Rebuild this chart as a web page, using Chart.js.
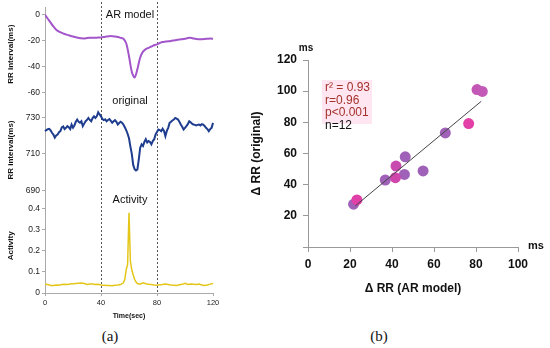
<!DOCTYPE html>
<html>
<head>
<meta charset="utf-8">
<script src="https://cdn.jsdelivr.net/npm/chart.js@4.4.1/dist/chart.umd.min.js"></script>
<style>
  body { margin: 0; background: #fff; width: 550px; height: 348px; position: relative; overflow: hidden; font-family: "Liberation Sans", Arial, sans-serif; }
  #leftChart { position: absolute; left: 0; top: 0; }
  #rightChart { position: absolute; left: 245px; top: 30px; }
  .panelLabel { position: absolute; top: 328px; transform: translateX(-50%); font-family: "Liberation Serif", serif; font-size: 15px; color: #111; }
</style>
</head>
<body>
<canvas id="leftChart" width="240" height="320"></canvas>
<canvas id="rightChart" width="305" height="270"></canvas>
<div class="panelLabel" style="left:110px">(a)</div>
<div class="panelLabel" style="left:379px">(b)</div>
<script>
// ---- (a) time series ----
const timeSec = [0, 2, 4, 6, 8, 10, 12, 14, 16, 18, 20, 22, 24, 26, 28, 30, 32, 34, 36, 38,
  40, 42, 44, 46, 48, 50, 52, 54, 56, 58, 60, 62, 64, 66, 68, 70, 72, 74, 76, 78,
  80, 82, 84, 86, 88, 90, 92, 94, 96, 98, 100, 102, 104, 106, 108, 110, 112, 114, 116, 118, 120];

const arModel = [0, -3, -6, -9, -11.5, -13, -14, -14.8, -15.5, -16.2, -16.8, -17.3, -17.8, -18.2, -18.3, -18, -17.8, -17.8, -17.7, -17.6,
  -17.5, -17.2, -16.8, -16.5, -16.5, -16.8, -17.2, -17.8, -18.5, -22, -32, -44, -48.5, -42, -33, -28.5, -26.5, -25.5, -24.5, -23.5,
  -22.8, -21.8, -21, -20.7, -20.5, -20.2, -19.8, -19.4, -19, -18.8, -18.5, -18, -17.8, -18.3, -18.7, -18.8, -18.8, -18.7, -18.5, -18.3, -18.5];

const origTime = [0, 1, 2, 3, 4, 5, 6, 7, 8, 9, 10, 11, 12, 13, 14, 15, 16, 17, 18, 19,
  20, 21, 22, 23, 24, 25, 26, 27, 28, 29, 30, 31, 32, 33, 34, 35, 36, 37, 38, 39,
  40, 41, 42, 43, 44, 45, 46, 47, 48, 49, 50, 51, 52, 53, 54, 55, 56, 57, 58, 59,
  60, 61, 62, 63, 64, 65, 66, 67, 68, 69, 70, 71, 72, 73, 74, 75, 76, 77, 78, 79,
  80, 81, 82, 83, 84, 85, 86, 87, 88, 89, 90, 91, 92, 93, 94, 95, 96, 97, 98, 99,
  100, 101, 102, 103, 104, 105, 106, 107, 108, 109, 110, 111, 112, 113, 114, 115, 116, 117, 118, 119, 120, 121];

const original = [722.4, 723, 723.5, 723.7, 722.8, 721.5, 720.5, 718.8, 720, 720.6,
  721.8, 722.4, 724.5, 725, 723.5, 724.2, 725.1, 724.5, 723.5, 726,
  724.3, 725.5, 727.5, 728.7, 727.5, 727, 727.8, 725.1, 726.5, 727.8,
  728.5, 729.6, 728.5, 727.8, 729.5, 730.5, 729.6, 730.5, 732.7, 731.5,
  730.5, 729, 728.4, 728.8, 727.8, 728.5, 729, 728, 727, 727.8,
  728.4, 727.5, 726, 726.8, 727.5, 727, 726, 724.5, 723, 721,
  718.5, 714, 710, 704, 701.7, 701, 701.5, 707, 713.4, 715.2,
  714.3, 716.5, 718, 716.2, 717, 716.5, 715.2, 717, 718, 720.6,
  722, 723.3, 723, 722.4, 723.7, 722.5, 719.7, 722.5, 724.2, 726.9,
  727.5, 728.2, 728.7, 729.6, 729.2, 728.7, 727.5, 726, 724.8, 723.3,
  724.2, 725.1, 726.2, 727.8, 727.2, 726.5, 726, 725.8, 725.5, 725.8,
  726, 725.5, 726.2, 726, 725.2, 724.2, 723.5, 722.4, 723.5, 724.2, 726.9, 729.6];

const activityTime = [0, 2, 4, 6, 8, 10, 12, 14, 16, 18, 20, 22, 24, 26, 28, 30, 32, 34, 36, 38, 40, 42, 44, 46, 48, 50, 52, 54,
  56, 57, 58, 59, 60, 61, 62, 63, 64, 65, 66,
  68, 70, 72, 74, 76, 78, 80, 82, 84, 86, 88, 90, 92, 94, 96, 98, 100, 102, 104, 106, 108, 110, 112, 114, 116, 118, 120];

const activity = [0.042, 0.040, 0.036, 0.035, 0.038, 0.037, 0.040, 0.041, 0.040, 0.043, 0.044, 0.045, 0.046, 0.047, 0.045, 0.040, 0.042, 0.043, 0.040, 0.041, 0.038, 0.037, 0.035, 0.036, 0.034, 0.037, 0.038, 0.040,
  0.048, 0.065, 0.11, 0.135, 0.38, 0.15, 0.11, 0.085, 0.065, 0.052, 0.045,
  0.042, 0.048, 0.044, 0.041, 0.040, 0.038, 0.037, 0.039, 0.040, 0.042, 0.040, 0.038, 0.037, 0.036, 0.039, 0.041, 0.046, 0.040, 0.042, 0.041, 0.040, 0.042, 0.038, 0.036, 0.038, 0.042, 0.045];

const arTicks = [-60, -40, -20, 0];
const origTicks = [690, 710, 730];
const actTicks = [0, 0.1, 0.2, 0.3, 0.4];
const markerTimes = [40, 80];
const panelTitles = ['AR model', 'original', 'Activity'];

// ---- (b) scatter ----
const rrAR = [80.5, 83, 76.5, 65.4, 46.3, 41.9, 54.8, 45.9, 41.6, 36.8, 21.7, 23.3];
const rrOriginal = [101, 99.8, 79.2, 73.2, 57.9, 51.9, 48.8, 46.6, 44.5, 43, 27.5, 30.2];
const fitX = [22.5, 82.5];
const fitY = [26.4, 93.5];
const statLines = ['r² = 0.93', 'r=0.96', 'p<0.001', 'n=12'];

const pointColors = ['#c257b6', '#c45ab8', '#e23fa7', '#a062b8', '#a062b8', '#c84bb0',
  '#a062b8', '#a062b8', '#d045ab', '#a062b8', '#a062b8', '#e040a8'];

const smallFont = '"Liberation Sans", Arial, sans-serif';

function fixedTicks(values) {
  return scale => { scale.ticks = values.map(v => ({ value: v })); };
}

function stackedY(weight, min, max, values, title) {
  return {
    type: 'linear',
    position: 'left',
    stack: 'left',
    stackWeight: weight,
    min: min,
    max: max,
    afterBuildTicks: fixedTicks(values),
    afterFit: s => { s.width = 45; },
    ticks: { autoSkip: false, font: { family: smallFont, size: 8.5 }, color: '#222', padding: 2, callback: v => String(v) },
    grid: { drawOnChartArea: false, tickLength: 3, color: '#aaa' },
    border: { color: '#aaa' },
    title: { display: true, text: title, font: { family: smallFont, size: 8, weight: 'bold' }, color: '#111', padding: { top: 6, bottom: 0 } }
  };
}

const leftDecor = {
  id: 'leftDecor',
  beforeDatasetsDraw(chart) {
    const { ctx, chartArea, scales } = chart;
    ctx.save();
    ctx.strokeStyle = '#555';
    ctx.lineWidth = 1;
    ctx.setLineDash([2, 2]);
    markerTimes.forEach(t => {
      const x = Math.round(scales.x.getPixelForValue(t)) + 0.5;
      ctx.beginPath();
      ctx.moveTo(x, 2);
      ctx.lineTo(x, chartArea.bottom);
      ctx.stroke();
    });
    ctx.restore();
  },
  afterDatasetsDraw(chart) {
    const { ctx, scales } = chart;
    const cx = scales.x.getPixelForValue(60) + 1;
    ctx.save();
    ctx.fillStyle = '#111';
    ctx.font = '11px ' + smallFont;
    ctx.textAlign = 'center';
    ctx.textBaseline = 'middle';
    ctx.fillText(panelTitles[0], cx, scales.yAR.getPixelForValue(0));
    ctx.fillText(panelTitles[1], cx, scales.yOrig.top);
    ctx.fillText(panelTitles[2], cx, scales.yAct.top + 1);
    ctx.restore();
  }
};

new Chart(document.getElementById('leftChart'), {
  type: 'line',
  data: {
    datasets: [
      {
        label: 'AR model',
        data: timeSec.map((t, i) => ({ x: t, y: arModel[i] })),
        yAxisID: 'yAR',
        borderColor: 'rgb(163, 86, 202)',
        borderWidth: 2,
        pointRadius: 0,
        tension: 0.3
      },
      {
        label: 'original',
        data: origTime.map((t, i) => ({ x: t, y: original[i] })),
        yAxisID: 'yOrig',
        borderColor: '#1f3d8f',
        borderWidth: 2,
        pointRadius: 0,
        tension: 0,
        clip: false
      },
      {
        label: 'Activity',
        data: activityTime.map((t, i) => ({ x: t, y: activity[i] })),
        yAxisID: 'yAct',
        borderColor: 'rgb(228, 198, 24)',
        borderWidth: 1.5,
        pointRadius: 0,
        tension: 0
      }
    ]
  },
  options: {
    responsive: false,
    animation: false,
    layout: { padding: { top: 5, right: 27, left: 0, bottom: 0 } },
    plugins: { legend: { display: false }, tooltip: { enabled: false } },
    scales: {
      x: {
        type: 'linear',
        min: 0,
        max: 120,
        afterFit: s => { s.height = 27; },
        ticks: { stepSize: 40, font: { family: smallFont, size: 7.5 }, color: '#222', padding: 2 },
        grid: { drawOnChartArea: false, tickLength: 3, color: '#aaa' },
        border: { color: '#aaa' },
        title: { display: true, text: 'Time(sec)', font: { family: smallFont, size: 7, weight: 'bold' }, color: '#111', padding: 0 }
      },
      // stacked axes are laid out bottom-up in definition order
      yAct: stackedY(95, 0, 0.446, actTicks, 'Activity'),
      yOrig: stackedY(98, 685.6, 738.6, origTicks, 'RR interval(ms)'),
      yAR: stackedY(95, -67, 6, arTicks, 'RR interval(ms)')
    }
  },
  plugins: [leftDecor]
});

// ---- right chart ----
const rightDecor = {
  id: 'rightDecor',
  afterDatasetsDraw(chart) {
    const { ctx, chartArea } = chart;
    ctx.save();
    ctx.font = 'bold 10px ' + smallFont;
    ctx.fillStyle = '#111';
    ctx.textAlign = 'center';
    ctx.textBaseline = 'middle';
    ctx.fillText('ms', chartArea.left - 2, chartArea.top - 12);
    ctx.font = 'bold 11px ' + smallFont;
    ctx.fillText('ms', chartArea.right + 18, chartArea.bottom - 1);

    const x0 = chartArea.left + 17;
    const y0 = chartArea.top + 28;
    ctx.fillStyle = 'rgba(255, 214, 232, 0.6)';
    ctx.fillRect(x0 - 3, y0 - 8, 50, 44);
    ctx.font = '12px ' + smallFont;
    ctx.textAlign = 'left';
    statLines.forEach((line, i) => {
      ctx.fillStyle = i < 3 ? '#a3322b' : '#111';
      ctx.fillText(line, x0, y0 + i * 12.4);
    });
    ctx.restore();
  }
};

const axisFont = { family: smallFont, size: 12, weight: 'bold' };

new Chart(document.getElementById('rightChart'), {
  type: 'scatter',
  data: {
    datasets: [
      {
        type: 'line',
        data: fitX.map((x, i) => ({ x: x, y: fitY[i] })),
        borderColor: '#444',
        borderWidth: 1,
        pointRadius: 0
      },
      {
        data: rrAR.map((x, i) => ({ x: x, y: rrOriginal[i] })),
        backgroundColor: pointColors,
        borderWidth: 0,
        pointRadius: 5.5
      }
    ]
  },
  options: {
    responsive: false,
    animation: false,
    layout: { padding: { top: 30, right: 32, left: 0, bottom: 0 } },
    plugins: { legend: { display: false }, tooltip: { enabled: false } },
    scales: {
      x: {
        type: 'linear',
        min: 0,
        max: 100,
        afterFit: s => { s.height = 53; },
        ticks: { stepSize: 20, font: axisFont, color: '#111', padding: 5 },
        grid: { drawOnChartArea: false, tickLength: 5, color: '#999' },
        border: { color: '#999' },
        title: { display: true, text: 'Δ RR (AR model)', font: axisFont, color: '#111', padding: { top: 0, bottom: 4 } }
      },
      y: {
        type: 'linear',
        min: 0,
        max: 120,
        afterFit: s => { s.width = 63; },
        ticks: { stepSize: 20, font: axisFont, color: '#111', padding: 6, callback: v => (v === 0 ? '' : v) },
        grid: { drawOnChartArea: false, tickLength: 5, color: '#999' },
        border: { color: '#999' },
        title: { display: true, text: 'Δ RR (original)', font: axisFont, color: '#111', padding: { top: 4, bottom: 0 } }
      }
    }
  },
  plugins: [rightDecor]
});
</script>
</body>
</html>
